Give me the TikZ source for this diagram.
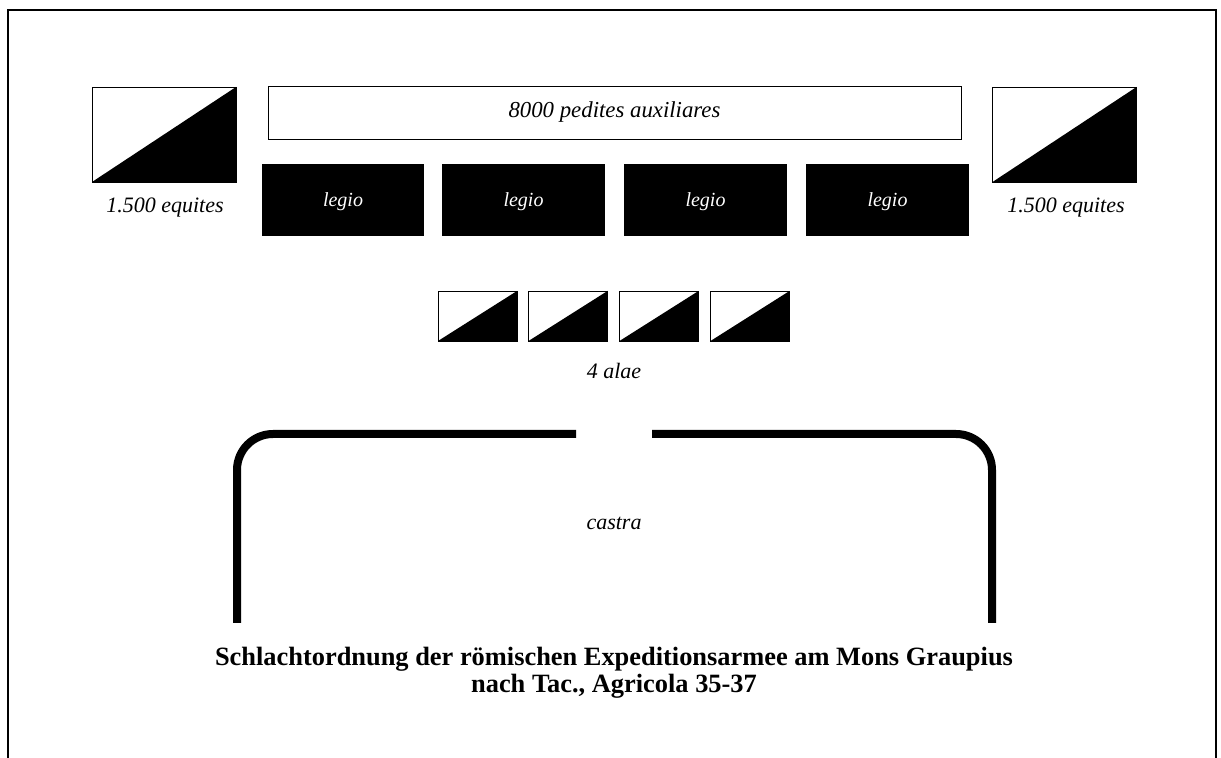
\documentclass[tikz,border=0pt]{standalone}
\usepackage{fontspec}
\setmainfont{Liberation Serif}
\begin{document}
\begin{tikzpicture}[x=0.5pt,y=-0.5pt,
eq/.style={%
draw,
thin,
minimum width=72pt,
minimum height=47.5pt,
inner sep=0pt,
path picture={\fill[black](path picture bounding box.south west)--(path picture bounding box.north east)--(path picture bounding box.south east)--cycle;}
},
ala/.style={%
eq,
minimum width=39.5pt,
minimum height=25pt
},
legio/.style={%
fill=black,
text=white,
minimum width=81.25pt,
minimum height=36pt,
inner sep=0pt,
text depth=0pt,
font=\fontsize{10}{12}\selectfont\itshape
},
lbl/.style={%
inner sep=0pt,
font=\fontsize{11}{13}\selectfont\itshape
},
]
%% Frame
\useasboundingbox(0,0)rectangle(1221,758);
\path[draw,line width=0.6pt](8,758)--(8,10)--(1216,10)--(1216,758);
%%equites
\node[eq](eqL)at(164,134.5){};
\node[eq](eqR)at(1064.5,134.5){};
\node[lbl](eqLtext)at(165,208){1.500 equites};
\node[lbl](eqRtext)at(1066,208){1.500 equites};
%%auxilia
\node[draw,thin,minimum width=346.5pt,minimum height=26.5pt,inner sep=0pt,font=\fontsize{11.4}{13}\selectfont\itshape](pedites)at(614.5,112.5){8000 pedites auxiliares};
%%legions
\node[legio](leg1)at(343,200){legio};
\node[legio](leg2)at(523.5,200){legio};
\node[legio](leg3)at(705.5,200){legio};
\node[legio](leg4)at(887.5,200){legio};
%%alae
\node[ala](ala1)at(477.5,316){};
\node[ala](ala2)at(568,316){};
\node[ala](ala3)at(659,316){};
\node[ala](ala4)at(750,316){};
\node[lbl](alae)at(614,371){4 alae};
%%camp
\path[draw,line width=4pt,rounded corners=18pt](576,434)--(237,434)--(237,623);
\path[draw,line width=4pt,rounded corners=18pt](652,434)--(992,434)--(992,623);
\node[lbl](castra)at(614,523){castra};
%%caption
\node[inner sep=0pt,align=center,font=\fontsize{13.2}{13.5}\selectfont\bfseries](caption)at(614,673){Schlachtordnung der römischen Expeditionsarmee am Mons Graupius\\nach Tac., Agricola 35-37};
\end{tikzpicture}
\end{document}
